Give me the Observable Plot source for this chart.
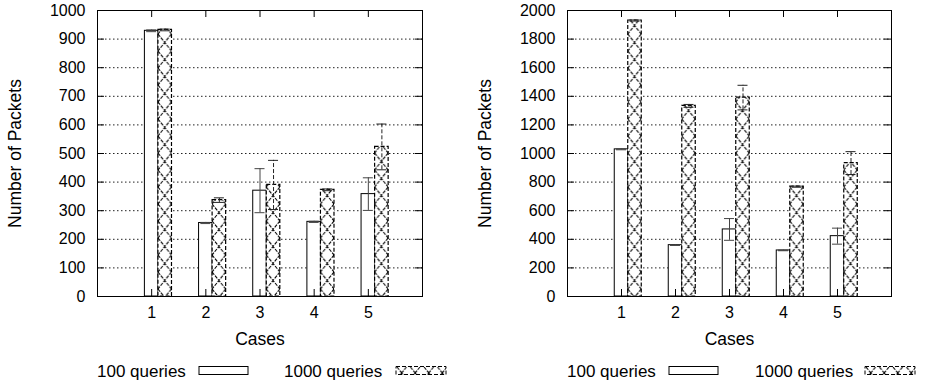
<!DOCTYPE html>
<html>
<head>
<meta charset="utf-8">
<script src="https://cdn.jsdelivr.net/npm/d3@7"></script>
<script src="https://cdn.jsdelivr.net/npm/@observablehq/plot@0.6"></script>
<style>
  html, body { margin: 0; padding: 0; background: white; }
  #wrap { display: flex; width: 925px; height: 386px; }
  .panel { position: relative; }
  .panel svg { display: block; }
</style>
</head>
<body>
<svg width="0" height="0" style="position:absolute">
  <defs id="defs"></defs>
</svg>
<div id="wrap"></div>
<script>
// ---- data ----
const cases = [1, 2, 3, 4, 5];
const seriesNames = ["100 queries", "1000 queries"];

const leftQ100     = [929, 257, 370, 261, 358];
const leftQ100Err  = [3, 2, 77, 2, 57];
const leftQ1000    = [932, 337, 390, 373, 523];
const leftQ1000Err = [3, 8, 86, 3, 80];

const rightQ100     = [1029, 359, 469, 322, 422];
const rightQ100Err  = [3, 2, 76, 2, 56];
const rightQ1000    = [1930, 1333, 1391, 768, 933];
const rightQ1000Err = [4, 10, 86, 4, 80];

const leftYTicks  = [0, 100, 200, 300, 400, 500, 600, 700, 800, 900, 1000];
const rightYTicks = [0, 200, 400, 600, 800, 1000, 1200, 1400, 1600, 1800, 2000];

const yLabel = "Number of Packets";
const xLabel = "Cases";

// ---- drawing ----
const FONT = "'Liberation Sans', Arial, Helvetica, sans-serif";
const PLOT_H = 356;
const MT = 10, MB = PLOT_H - 296;
const XMAX = 6, BW = 0.25;

function makePattern(id, x0, w) {
  const defs = d3.select("#defs");
  const p = defs.append("pattern")
    .attr("id", id).attr("patternUnits", "userSpaceOnUse")
    .attr("x", x0).attr("y", 0).attr("width", w).attr("height", 17);
  p.append("rect").attr("width", w).attr("height", 17).attr("fill", "white");
  p.append("path").attr("d", `M0,0L${w},17M${w},0L0,17`)
    .attr("stroke", "#000").attr("stroke-width", 1.1)
    .attr("stroke-dasharray", "3.5,1.2").attr("fill", "none");
}

function panel({width, ml, mr, ymax, yTicks, q100, q100e, q1000, q1000e, pid, legend}) {
  const plotW = width - ml - mr;
  const ppu = plotW / XMAX;                 // pixels per x unit
  const ppy = (PLOT_H - MT - MB) / ymax;    // pixels per y unit
  makePattern(pid, ml + (1 + BW / 2) * ppu, BW * ppu);

  const a = cases.map((c, i) => ({c, v: q100[i], e: q100e[i], cx: c}));
  const b = cases.map((c, i) => ({c, v: q1000[i], e: q1000e[i], cx: c + BW}));
  const tx = 7 / ppu, ty = 7 / ppy, cap = 5 / ppu;

  const errMarks = (rows, stroke, dash) => [
    Plot.ruleX(rows, {x: d => d.cx, y1: d => d.v - d.e, y2: d => d.v + d.e, stroke, strokeDasharray: dash}),
    Plot.ruleY(rows, {y: d => d.v + d.e, x1: d => d.cx - cap, x2: d => d.cx + cap, stroke}),
    Plot.ruleY(rows, {y: d => d.v - d.e, x1: d => d.cx - cap, x2: d => d.cx + cap, stroke})
  ];

  const svg = Plot.plot({
    width, height: PLOT_H,
    marginLeft: ml, marginRight: mr, marginTop: MT, marginBottom: MB,
    style: {fontFamily: FONT, fontSize: "16px", background: "white", color: "black"},
    x: {domain: [0, XMAX]},
    y: {domain: [0, ymax]},
    marks: [
      Plot.gridY(yTicks.filter(t => t > 0 && t < ymax), {stroke: "#222", strokeOpacity: 1, strokeDasharray: "1.5,2.5"}),
      Plot.rect(a, {x1: d => d.c - BW / 2, x2: d => d.c + BW / 2, y1: d => 0, y2: d => d.v,
                    fill: "white", stroke: "black", strokeWidth: 1}),
      Plot.rect(b, {x1: d => d.c + BW / 2, x2: d => d.c + 1.5 * BW, y1: d => 0, y2: d => d.v,
                    fill: `url(#${pid})`, stroke: "black", strokeWidth: 1.2, strokeDasharray: "4,2"}),
      ...errMarks(a, "#444", null),
      ...errMarks(b, "#222", "4,2"),
      // inward tick marks on all four sides
      Plot.ruleY(yTicks, {y: d => d, x1: d => 0, x2: d => tx, stroke: "black"}),
      Plot.ruleY(yTicks, {y: d => d, x1: d => XMAX - tx, x2: d => XMAX, stroke: "black"}),
      Plot.ruleX(cases, {x: d => d, y1: d => ymax - ty, y2: d => ymax, stroke: "black"}),
      Plot.ruleX(cases, {x: d => d, y1: d => 0, y2: d => ty, stroke: "black"}),
      Plot.frame({stroke: "black", strokeWidth: 1}),
      Plot.axisY(yTicks, {tickSize: 0, tickPadding: 12, label: null, tickFormat: d => String(d)}),
      Plot.axisX(cases, {tickSize: 0, tickPadding: 10, label: null, tickFormat: d => String(d)}),
      Plot.text([yLabel], {frameAnchor: "left", textAnchor: "middle", lineAnchor: "middle",
                           rotate: -90, dx: -82}),
      Plot.text([xLabel], {frameAnchor: "bottom", textAnchor: "middle", lineAnchor: "middle", dy: 43})
    ]
  });

  // font sizes
  d3.select(svg).selectAll("text").attr("font-size", null).style("font-size", "16px");
  d3.select(svg).selectAll("text").filter(function() {
    const t = this.textContent; return t === yLabel || t === xLabel;
  }).style("font-size", "17.5px");

  const div = document.createElement("div");
  div.className = "panel";
  div.style.width = width + "px";
  div.appendChild(svg);

  // legend below the plot
  const lg = d3.create("svg").attr("width", width).attr("height", 386 - PLOT_H)
    .style("font-family", FONT).style("font-size", "17px");
  lg.append("text").attr("x", legend.t1).attr("y", 20.5).text(seriesNames[0]);
  lg.append("rect").attr("x", legend.s1).attr("y", 10.5).attr("width", 49).attr("height", 8)
    .attr("fill", "white").attr("stroke", "black");
  lg.append("text").attr("x", legend.t2).attr("y", 20.5).text(seriesNames[1]);
  lg.append("rect").attr("x", legend.s2).attr("y", 10.5).attr("width", 50).attr("height", 8)
    .attr("fill", `url(#${pid})`).attr("stroke", "black").attr("stroke-dasharray", "4,2");
  div.appendChild(lg.node());
  return div;
}

const wrap = document.getElementById("wrap");
wrap.appendChild(panel({
  width: 462, ml: 97, mr: 40, ymax: 1000, yTicks: leftYTicks,
  q100: leftQ100, q100e: leftQ100Err, q1000: leftQ1000, q1000e: leftQ1000Err,
  pid: "hatchL", legend: {t1: 97, s1: 199, t2: 284, s2: 396}
}));
wrap.appendChild(panel({
  width: 463, ml: 105, mr: 34, ymax: 2000, yTicks: rightYTicks,
  q100: rightQ100, q100e: rightQ100Err, q1000: rightQ1000, q1000e: rightQ1000Err,
  pid: "hatchR", legend: {t1: 105, s1: 207, t2: 293, s2: 403}
}));
</script>
</body>
</html>
